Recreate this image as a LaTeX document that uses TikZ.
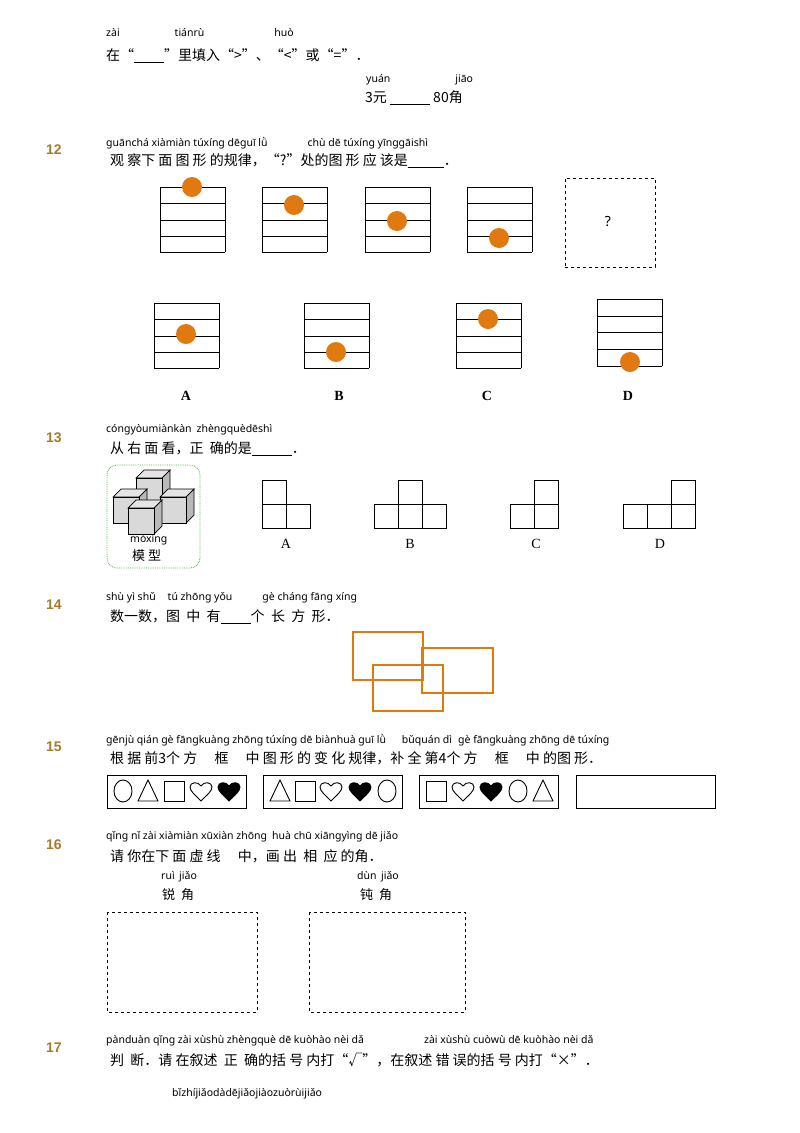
\documentclass[tikz,border=0pt]{standalone}
\usepackage{fontspec}
\setmainfont{Noto Sans CJK SC}
\newfontfamily\py{Noto Sans}
\newfontfamily\nb{Liberation Sans}
\newfontfamily\ser{Liberation Serif}
\definecolor{numc}{HTML}{A47A2C}
\definecolor{org}{HTML}{E07A10}
\begin{document}
\begin{tikzpicture}[x=1pt,y=-1pt,
  cn/.style={anchor=west,inner sep=0pt,font=\fontsize{14}{14}\selectfont},
  pyn/.style={anchor=west,inner sep=0pt,font=\py\fontsize{10.5}{11}\selectfont},
  qn/.style={inner sep=0pt,text=numc,font=\nb\bfseries\fontsize{14}{14}\selectfont},
  lab/.style={inner sep=0pt,font=\ser\fontsize{14}{14}\selectfont},
  ln/.style={line width=0.9pt},
  dot/.style={fill=org,draw=none},
  shp/.style={line width=0.9pt}]
\useasboundingbox (0,0) rectangle (800,1133);
% top
\node[pyn] (p0) at (106,33) {zài\hspace{55pt}tiánrù\hspace{70pt}huò};
\node[cn] (t0) at (106,56) {在“\underline{\hspace{30pt}}”里填入“>”、“<”或“=”．};
\node[pyn] (p0b) at (366,80) {yuán\hspace{65pt}jiāo};
\node[cn] (t0b) at (365,98) {3元 \underline{\hspace{40pt}} 80角};
% 12
\node[qn] (n12) at (54,150) {12};
\node[pyn] (p12) at (106,143) {guānchá xiàmiàn túxíng dēguī lǜ\hspace{40pt}chù dē túxíng yīnggāishì};
\node[cn] (t12) at (110,161) {观 察下 面 图 形 的规律，“?”处的图 形 应 该是\underline{\hspace{36pt}}．};
\foreach \x/\cy in {160/187,262/205,365/221,467/238}{
  \foreach \yy in {187,203,220,236,252}{\draw[ln] (\x,\yy) -- ++(65,0);}
  \draw[ln] (\x,187) -- (\x,252) (\x+65,187) -- (\x+65,252);
  \fill[dot] (\x+32,\cy) circle (10);}
\node[draw,dashed,minimum width=90pt,minimum height=89pt,line width=0.8pt] (qb) at (610,222.5) {};
\node[font=\py\fontsize{14}{14}\selectfont] (qm) at (608,222) {?};
\foreach \x/\cy in {154/334,304/352,456/319}{
  \foreach \yy in {303,319,336,352,368}{\draw[ln] (\x,\yy) -- ++(65,0);}
  \draw[ln] (\x,303) -- (\x,368) (\x+65,303) -- (\x+65,368);
  \fill[dot] (\x+32,\cy) circle (10);}
\foreach \yy in {299,316,332,349,366}{\draw[ln] (597,\yy) -- ++(65,0);}
\draw[ln] (597,299) -- (597,366) (662,299) -- (662,366);
\fill[dot] (630,362) circle (10);
\node[lab,font=\ser\bfseries\fontsize{14}{14}\selectfont] (la) at (186,396) {A};
\node[lab,font=\ser\bfseries\fontsize{14}{14}\selectfont] (lb) at (339,396) {B};
\node[lab,font=\ser\bfseries\fontsize{14}{14}\selectfont] (lc) at (487,396) {C};
\node[lab,font=\ser\bfseries\fontsize{14}{14}\selectfont] (ld) at (628,396) {D};
% 13
\node[qn] (n13) at (54,438) {13};
\node[pyn] (p13) at (106,430) {cóngyòumiànkàn\hspace{5pt}zhèngquèdēshì};
\node[cn] (t13) at (110,449) {从 右 面 看，正 \ 确的是\underline{\hspace{40pt}}．};
\draw[rounded corners=10pt,densely dotted,draw=green!40!gray,line width=0.8pt] (107,465) rectangle (200,568);
\def\cube#1#2{%
  \filldraw[fill=gray!20,line width=0.7pt] (#1,#2) -- ++(8,-8) -- ++(26,0) -- ++(-8,8) -- cycle;
  \filldraw[fill=gray!55,line width=0.7pt] (#1+26,#2) -- ++(8,-8) -- ++(0,26) -- ++(-8,8) -- cycle;
  \filldraw[fill=gray!30,line width=0.7pt] (#1,#2) rectangle ++(26,26);}
\cube{136}{478}
\cube{113}{497}
\cube{160}{497}
\cube{128}{508}
\node[pyn] (mx) at (130,540) {móxíng};
\node[cn,font=\fontsize{13}{13}\selectfont] (mx2) at (132,556) {模 型};
\def\sq#1#2{\draw[ln] (#1,#2) rectangle ++(24,24);}
\sq{262}{480}\sq{262}{504}\sq{286}{504}
\sq{398}{480}\sq{374}{504}\sq{398}{504}\sq{422}{504}
\sq{534}{480}\sq{510}{504}\sq{534}{504}
\sq{671}{480}\sq{623}{504}\sq{647}{504}\sq{671}{504}
\node[lab] (a13) at (286,544) {A};
\node[lab] (b13) at (410,544) {B};
\node[lab] (c13) at (536,544) {C};
\node[lab] (d13) at (660,544) {D};
% 14
\node[qn] (n14) at (54,605) {14};
\node[pyn] (p14) at (106,598) {shù yì shǔ\hspace{12pt}tú zhōng yǒu\hspace{30pt}gè cháng fāng xíng};
\node[cn] (t14) at (110,617) {数一数，图 \ 中 \ 有\underline{\hspace{30pt}}个 \ 长 \ 方 \ 形．};
\draw[org,line width=1.3pt] (353,632) rectangle (423,680);
\draw[org,line width=1.3pt] (422,648) rectangle (493,693);
\draw[org,line width=1.3pt] (373,665) rectangle (443,711);
% 15
\node[qn] (n15) at (54,747) {15};
\node[pyn] (p15) at (106,740) {gēnjù qián gè fāngkuàng zhōng túxíng dē biànhuà guī lǜ\hspace{16pt}bǔquán dì\hspace{6pt}gè fāngkuàng zhōng dē túxíng};
\node[cn] (t15) at (110,758) {根 据 前3个 方 \quad 框 \quad 中 图 形 的 变 化 规律，补 全 第4个 方 \quad 框 \quad 中 的图 形．};
\foreach \x in {107,263,419,576}{\draw[line width=0.8pt] (\x,775) rectangle ++(139,33);}
\def\circ#1{\draw[shp] (#1,791) ellipse (9 and 11);}
\def\tri#1{\draw[shp] (#1-10,801) -- (#1,780) -- (#1+10,801) -- cycle;}
\def\squ#1{\draw[shp] (#1-10,781) rectangle (#1+10,801);}
\def\hrt#1#2{\begin{scope}[shift={(#1,791)},yscale=-1]\draw[shp,#2] (0,-10) .. controls (-6,-4) and (-11,0) .. (-11,4) .. controls (-11,9) and (-3,10) .. (0,5) .. controls (3,10) and (11,9) .. (11,4) .. controls (11,0) and (6,-4) .. (0,-10);\end{scope}}
\circ{123}\tri{148}\squ{174}\hrt{201}{}\hrt{229}{fill=black}
\tri{280}\squ{305}\hrt{331}{}\hrt{360}{fill=black}\circ{387}
\squ{436}\hrt{463}{}\hrt{491}{fill=black}\circ{518}\tri{543}
% 16
\node[qn] (n16) at (54,845) {16};
\node[pyn] (p16) at (106,837) {qǐng nǐ zài xiàmiàn xūxiàn zhōng\hspace{5pt}huà chū xiāngyìng dē jiǎo};
\node[cn] (t16) at (110,856) {请 你在下 面 虚 线 \quad 中，画 出 \ 相 \ 应 的角．};
\node[pyn,font=\py\bfseries\fontsize{10.5}{11}\selectfont] (r1) at (161,877) {ruì\, jiǎo};
\node[cn,font=\fontsize{13}{13}\selectfont] (r2) at (162,895) {锐 \ 角};
\node[pyn,font=\py\bfseries\fontsize{10.5}{11}\selectfont] (d1) at (357,877) {dùn\, jiǎo};
\node[cn,font=\fontsize{13}{13}\selectfont] (d2) at (360,895) {钝 \ 角};
\draw[dashed,line width=0.8pt] (107,912) rectangle (257,1012);
\draw[dashed,line width=0.8pt] (309,912) rectangle (465,1012);
% 17
\node[qn] (n17) at (54,1048) {17};
\node[pyn] (p17) at (106,1041) {pànduàn qǐng zài xùshù zhèngquè dē kuòhào nèi dǎ\hspace{60pt}zài xùshù cuòwù dē kuòhào nèi dǎ};
\node[cn] (t17) at (110,1060) {判 \ 断．请 在叙述 \ 正 \ 确的括 号 内打“√”，在叙述 错 误的括 号 内打“×”．};
\node[pyn] (p18) at (172,1094) {bǐzhíjiǎodàdējiǎojiàozuòrùijiǎo};
\end{tikzpicture}
\end{document}
